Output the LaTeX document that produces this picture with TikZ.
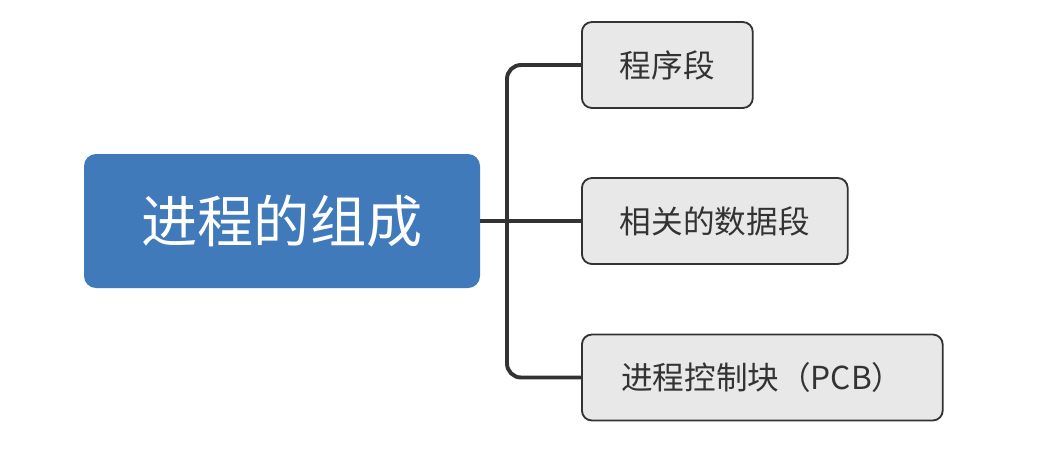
\documentclass[tikz,border=0pt]{standalone}
\usepackage{fontspec}
\setmainfont{Noto Sans CJK SC}
\usepackage{xcolor}
\usetikzlibrary{positioning, calc}
\definecolor{rootblue}{RGB}{64, 122, 187}
\definecolor{leafgray}{RGB}{232, 232, 232}
\definecolor{linegray}{RGB}{51, 51, 51}

\begin{document}
\begin{tikzpicture}
        \useasboundingbox (0,0) rectangle (26.5,-11.85);

        % Central topic
        \node[fill=rootblue, rounded corners=0.3cm, minimum width=9.9cm, minimum height=3.35cm, text=white, font=\fontsize{40}{45}\selectfont] (root) at (7.05,-5.525) {进程的组成};

        % Sub topics
        \tikzset{leaf/.style={draw=linegray, fill=leafgray, rounded corners=0.25cm, line width=1.3pt, inner xsep=0.95cm, minimum height=2.15cm, anchor=west, text=linegray, font=\fontsize{22.5}{26}\selectfont}}
        \node[leaf] (prog) at (14.525,-1.625) {程序段};
        \node[leaf] (data) at (14.525,-5.525) {相关的数据段};
        \node[leaf, inner xsep=0.98cm] (pcb) at (14.525,-9.4375) {进程控制块（PCB）};

        % Branches
        \coordinate (hub) at (12.675,-5.525);
        \draw[line width=2.8pt, linegray] (root.east) -- (hub);
        \draw[line width=2.8pt, linegray] (hub) -- (data.west);
        \draw[line width=2.8pt, linegray, rounded corners=0.35cm] (prog.west) -| (hub) |- (pcb.west);
    \end{tikzpicture}
\end{document}
